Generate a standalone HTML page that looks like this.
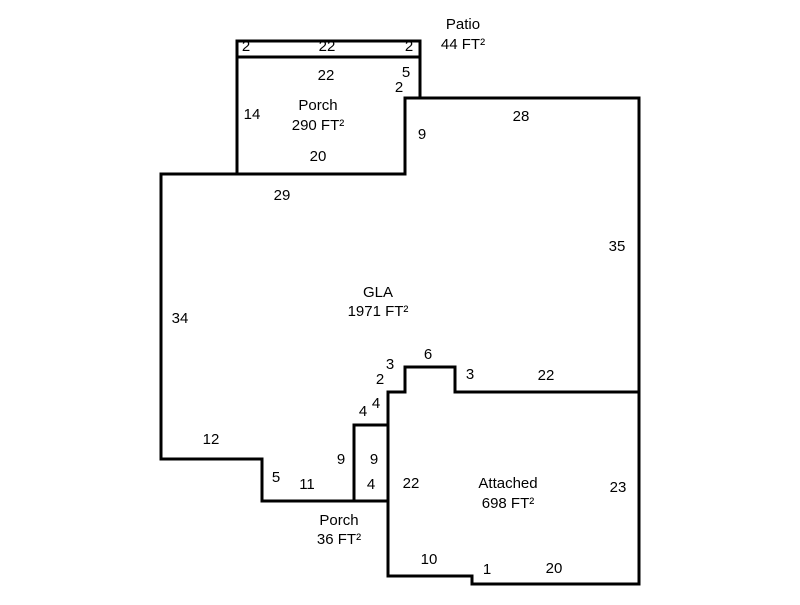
<!DOCTYPE html>
<html><head><style>
body{margin:0;background:#fff}
svg text{font-family:"Liberation Sans",Arial,sans-serif;font-size:15px;fill:#000;text-anchor:middle}
</style></head><body>
<svg width="800" height="600" viewBox="0 0 800 600" xmlns="http://www.w3.org/2000/svg">
<g fill="none" stroke="#000" stroke-width="3">
<rect x="237" y="41" width="183" height="16"/>
<polyline points="237,57 237,174 405,174 405,98 420,98 420,57"/>
<polygon points="161,174 405,174 405,98 639,98 639,392 455,392 455,367 405,367 405,392 388,392 388,425 354,425 354,501 262,501 262,459 161,459"/>
<polyline points="639,392 639,584 472,584 472,576 388,576 388,392"/>
<rect x="354" y="425" width="34" height="76"/>
</g>
<text x="246" y="51">2</text><text x="327" y="51">22</text><text x="409" y="51">2</text>
<text x="463" y="29">Patio</text><text x="463" y="49">44 FT²</text>
<text x="326" y="80">22</text><text x="406" y="77">5</text><text x="399" y="92">2</text>
<text x="318" y="110">Porch</text><text x="318" y="130">290 FT²</text>
<text x="252" y="119">14</text><text x="318" y="161">20</text>
<text x="422" y="139">9</text><text x="521" y="121">28</text>
<text x="282" y="200">29</text><text x="617" y="251">35</text>
<text x="378" y="297">GLA</text><text x="378" y="316">1971 FT²</text>
<text x="180" y="323">34</text>
<text x="428" y="359">6</text><text x="390" y="369">3</text><text x="380" y="384">2</text>
<text x="470" y="379">3</text><text x="546" y="380">22</text>
<text x="376" y="408">4</text><text x="363" y="416">4</text>
<text x="211" y="444">12</text>
<text x="341" y="464">9</text><text x="374" y="464">9</text>
<text x="371" y="489">4</text><text x="411" y="488">22</text>
<text x="508" y="488">Attached</text><text x="508" y="508">698 FT²</text>
<text x="618" y="492">23</text>
<text x="276" y="482">5</text><text x="307" y="489">11</text>
<text x="339" y="525">Porch</text><text x="339" y="544">36 FT²</text>
<text x="429" y="564">10</text><text x="487" y="574">1</text><text x="554" y="573">20</text>
</svg>
</body></html>
